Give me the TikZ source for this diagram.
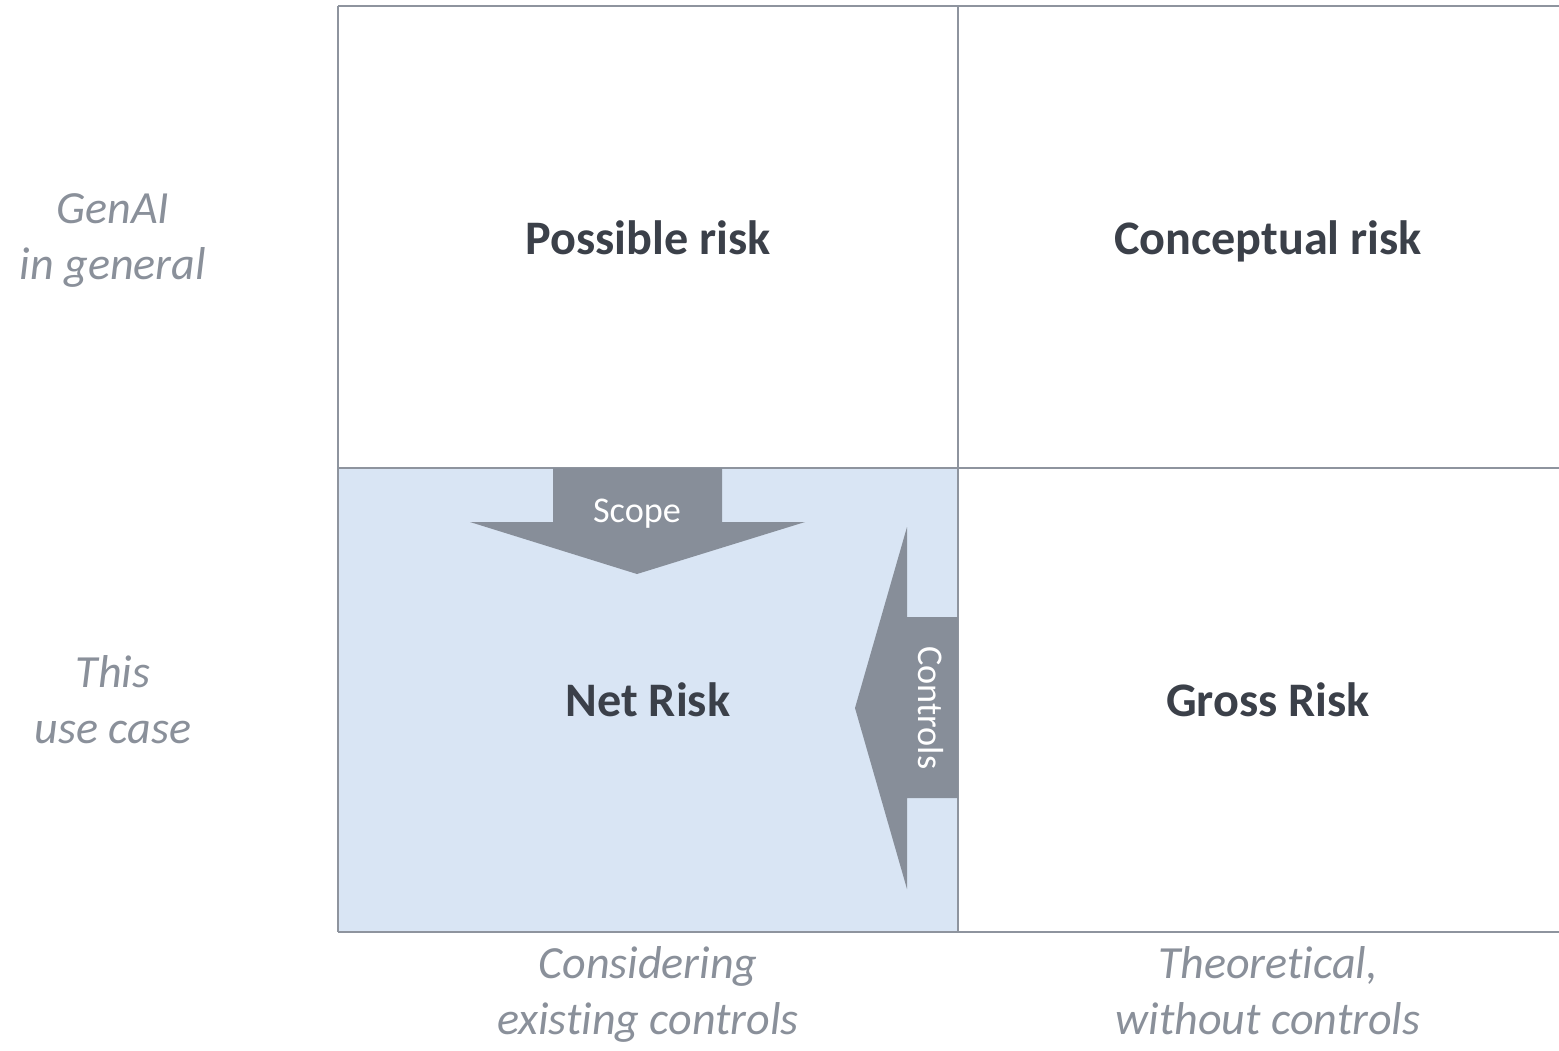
\documentclass[tikz,border=0pt]{standalone}
\usepackage{fontspec}
\setmainfont{Carlito}[RawFeature={-liga;-dlig;-calt}]
\definecolor{ink}{HTML}{3B4049}
\definecolor{axisgray}{HTML}{8A909A}
\definecolor{gridgray}{HTML}{8E949E}
\definecolor{arrowgray}{HTML}{878E99}
\definecolor{netblue}{HTML}{D9E5F4}

\begin{document}
\begin{tikzpicture}[
    x=0.01cm, y=-0.01cm,
    cell/.style={anchor=base, text=ink, inner sep=0pt,
        font=\bfseries\fontsize{13.7}{16}\selectfont},
    axis/.style={anchor=base, text=axisgray, inner sep=0pt, align=center,
        font=\itshape\fontsize{13.1}{15.9}\selectfont},
    grid/.style={draw=gridgray, line width=0.6pt},
    bigarrow/.style={fill=arrowgray, draw=none},
    tag/.style={text=white, inner sep=0pt,
        font=\fontsize{10.3}{12}\selectfont}
]
    \useasboundingbox (0,0) rectangle (1559,1050);

    % shaded cell and grid
    \fill[netblue] (338,468) rectangle (958,932);
    \draw[grid] (338,6) -- (1559,6);
    \draw[grid] (338,468) -- (1559,468);
    \draw[grid] (338,932) -- (1559,932);
    \draw[grid] (338,6) -- (338,932);
    \draw[grid] (958,6) -- (958,932);

    % arrows
    \fill[bigarrow] (553,468) -- (722,468) -- (722,522) -- (805,522)
        -- (637,574) -- (470,522) -- (553,522) -- cycle;
    \fill[bigarrow] (958,617) -- (958,798) -- (907,798) -- (907,889)
        -- (855,708) -- (907,527) -- (907,617) -- cycle;
    \node[tag] (scope) at (637,514) {Scope};
    \node[tag, rotate=-90] (controls) at (931,708) {Controls};

    % cell labels
    \node[cell] (possible) at (648,254) {Possible risk};
    \node[cell] (conceptual) at (1268,254) {Conceptual risk};
    \node[cell] (net) at (648,716) {Net Risk};
    \node[cell] (gross) at (1268,716) {Gross Risk};

    % axis labels (base = last line)
    \node[axis] (genai) at (113,279) {GenAI\\in general};
    \node[axis] (usecase) at (113,743) {This\\use case};
    \node[axis] (existing) at (648,1034) {Considering\\existing controls};
    \node[axis] (theory) at (1268,1034) {Theoretical,\\without controls};
\end{tikzpicture}
\end{document}
